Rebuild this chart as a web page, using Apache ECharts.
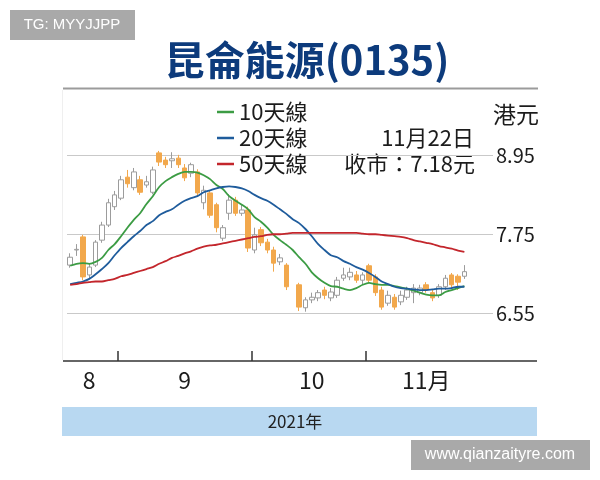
<!DOCTYPE html>
<html>
<head>
<meta charset="utf-8">
<script src="https://cdn.jsdelivr.net/npm/echarts@6/dist/echarts.min.js"></script>
<style>
  html, body { margin: 0; padding: 0; background: #ffffff; }
  #chart { width: 600px; height: 480px; }
</style>
</head>
<body>
<div id="chart"></div>
<script>
// 昆侖能源 (0135) daily candles, 20 Aug – 22 Nov 2021, HK$
const augDays = ['8/20','8/23','8/24','8/25','8/26','8/27','8/30','8/31'];
const sepDays = ['9/1','9/2','9/3','9/6','9/7','9/8','9/9','9/10','9/13','9/14','9/15','9/16','9/17',
                 '9/20','9/21','9/23','9/24','9/27','9/28','9/29','9/30'];
const octDays = ['10/4','10/5','10/6','10/7','10/8','10/11','10/13','10/15','10/18','10/19','10/20',
                 '10/21','10/22','10/25','10/26','10/27','10/28','10/29'];
const novDays = ['11/1','11/2','11/3','11/4','11/5','11/8','11/9','11/10','11/11','11/12','11/15',
                 '11/16','11/17','11/18','11/19','11/22'];
const dates = augDays.concat(sepDays, octDays, novDays);

// [open, close, low, high]; '-' = no trading that day
const ohlc = [
  [7.28,7.40,7.24,7.46],[7.51,7.52,7.42,7.60],[7.71,7.10,7.05,7.74],[7.13,7.25,7.08,7.30],
  [7.28,7.63,7.25,7.66],[7.66,7.89,7.62,7.94],[7.89,8.23,7.86,8.29],[8.17,8.35,8.12,8.41],
  [8.30,8.58,8.27,8.64],[8.62,8.52,8.46,8.73],[8.46,8.70,8.42,8.76],[8.58,8.39,8.35,8.64],
  [8.50,8.55,8.46,8.64],[8.39,8.73,8.36,8.78],[8.99,8.85,8.79,9.02],[8.88,8.81,8.76,8.93],
  [8.87,8.90,8.76,9.00],[8.91,8.81,8.76,8.96],[8.76,8.61,8.56,8.82],[8.68,8.81,8.62,8.84],
  [8.70,8.38,8.33,8.74],[8.23,8.42,8.13,8.49],[8.38,8.04,8.00,8.42],[8.20,7.85,7.78,8.23],
  [7.69,7.85,7.65,7.89],[8.07,8.27,7.97,8.36],[8.27,8.07,8.03,8.32],[8.07,8.12,8.03,8.20],
  [8.12,7.54,7.48,8.17],[7.51,7.74,7.46,7.85],[7.82,7.62,7.57,7.86],[7.63,7.51,7.46,7.68],
  [7.51,7.31,7.18,7.56],[7.33,7.39,7.28,7.45],[7.28,6.95,6.90,7.31],'-',
  [6.98,6.64,6.58,7.01],[6.63,6.75,6.57,6.79],[6.75,6.79,6.70,6.86],[6.78,6.86,6.73,6.90],
  [6.90,6.82,6.76,6.95],[6.78,6.87,6.73,6.93],[6.82,7.05,6.78,7.10],[7.08,7.13,7.04,7.24],
  [7.10,7.17,7.05,7.24],[7.13,7.05,7.01,7.19],[7.05,7.13,6.99,7.17],[7.27,7.05,7.01,7.30],
  [7.10,6.86,6.81,7.14],[6.90,6.64,6.60,6.95],[6.70,6.82,6.66,6.89],[6.79,6.64,6.60,6.84],
  [6.72,6.82,6.67,6.89],[6.79,6.90,6.75,6.95],[6.86,6.93,6.70,6.99],[6.86,6.93,6.82,6.98],
  [6.98,6.90,6.86,7.02],[6.86,6.78,6.73,6.90],[6.82,6.95,6.78,6.99],[6.95,7.08,6.90,7.13],
  [7.13,6.98,6.93,7.16],[7.11,7.02,6.90,7.14],[7.11,7.18,7.07,7.28]
];

const ma10 = [7.27,7.30,7.31,7.30,7.33,7.39,7.51,7.60,7.72,7.85,7.97,8.07,8.21,8.33,8.47,8.56,
  8.62,8.67,8.70,8.70,8.69,8.65,8.59,8.50,8.44,8.33,8.26,8.20,8.13,8.01,7.94,7.85,7.74,7.66,
  7.59,7.51,7.40,7.30,7.17,7.08,7.01,6.96,6.95,6.92,6.90,6.93,6.98,7.01,6.99,6.98,6.98,6.96,
  6.94,6.92,6.89,6.86,6.83,6.82,6.82,6.87,6.90,6.93,6.96];
const ma20 = [6.99,7.01,7.03,7.07,7.14,7.22,7.31,7.43,7.54,7.63,7.72,7.80,7.89,7.95,8.04,8.09,
  8.13,8.20,8.26,8.30,8.33,8.39,8.42,8.45,8.47,8.48,8.47,8.45,8.41,8.35,8.30,8.26,8.20,8.13,
  8.06,7.98,7.92,7.83,7.72,7.60,7.51,7.43,7.40,7.34,7.30,7.25,7.21,7.16,7.10,7.03,6.99,6.95,
  6.93,6.92,6.91,6.90,6.90,6.91,6.92,6.92,6.93,6.95,6.95];
const ma50 = [6.98,6.99,7.01,7.02,7.03,7.03,7.05,7.07,7.11,7.13,7.16,7.19,7.22,7.25,7.30,7.34,
  7.39,7.42,7.46,7.49,7.53,7.56,7.58,7.59,7.61,7.63,7.65,7.67,7.69,7.71,7.72,7.74,7.75,7.75,
  7.76,7.77,7.77,7.77,7.77,7.77,7.77,7.77,7.77,7.77,7.77,7.77,7.76,7.75,7.75,7.74,7.73,7.72,
  7.71,7.69,7.66,7.64,7.62,7.60,7.57,7.55,7.53,7.50,7.48];

const maNames = ['10天線', '20天線', '50天線'];
const maColors = ['#3c9c44', '#1f5c9c', '#c3262c'];

// price axis ticks (HK$)
const priceMin = 5.35, priceMax = 10.15, priceStep = 1.2;
const shownPrices = [6.55, 7.75, 8.95];

// month captions under the time axis, keyed by the trading-day slot they sit on
const monthLabels = { 3: '8', 18: '9', 38: '10', 56: '11月' };

// a few empty slots keep the price grid running past the last session
const trailingSlots = 4;
const categories = dates.concat(new Array(trailingSlots).fill(''));

// month dividers sit on the boundary before the first session of each month
const monthOf = d => d.split('/')[0];
const monthDividers = [];
dates.forEach((d, i) => { if (i > 0 && monthOf(d) !== monthOf(dates[i - 1])) monthDividers.push(i - 0.5); });
const labelSlots = Object.keys(monthLabels).map(Number);

const lastClose = ohlc[ohlc.length - 1][1];
const lastDate = dates[dates.length - 1].split('/');

const NARROW = '"Liberation Sans Narrow", "Noto Sans CJK TC", "Liberation Sans", sans-serif';
const CJK = '"Noto Sans CJK TC", "Liberation Sans", sans-serif';
const INK = '#1c1c1c';

const chart = echarts.init(document.getElementById('chart'), null, { renderer: 'canvas' });

chart.setOption({
  animation: false,
  backgroundColor: '#ffffff',
  grid: { left: 67, right: 107, top: 76.75, bottom: 88.25 },
  legend: {
    data: maNames,
    orient: 'vertical',
    left: 217, top: 101,
    padding: 0,
    itemGap: 4,
    itemWidth: 17, itemHeight: 2.5,
    icon: 'rect',
    selectedMode: false,
    textStyle: { fontSize: 22, lineHeight: 22, color: INK, fontFamily: NARROW }
  },
  xAxis: [
    {
      // trading-day slots carrying the candles and averages
      type: 'category',
      data: categories,
      boundaryGap: true,
      axisLine: { show: false },
      axisTick: { show: false },
      axisLabel: { show: false },
      splitLine: { show: false }
    },
    {
      // same slots as a continuous scale: month dividers and captions
      type: 'value',
      min: -0.5,
      max: categories.length - 0.5,
      position: 'bottom',
      offset: -30.75,
      axisLine: { show: false },
      splitLine: { show: false },
      axisTick: {
        show: true, inside: true, length: 10,
        customValues: monthDividers,
        lineStyle: { color: '#333333', width: 1.5 }
      },
      axisLabel: {
        customValues: labelSlots,
        formatter: (v) => monthLabels[Math.round(v)] || '',
        fontSize: 23, lineHeight: 23, color: INK, fontFamily: NARROW, margin: 8
      }
    }
  ],
  yAxis: {
    type: 'value',
    position: 'right',
    min: priceMin, max: priceMax, interval: priceStep,
    axisLine: { show: false },
    axisTick: { show: false },
    axisLabel: {
      formatter: (v) => shownPrices.some(p => Math.abs(p - v) < 1e-6) ? v.toFixed(2) : '',
      margin: 3, fontSize: 20, color: INK, fontFamily: NARROW
    },
    splitLine: {
      show: true,
      lineStyle: { color: ['rgba(0,0,0,0)', '#c9c9c9', '#c9c9c9', '#c9c9c9', 'rgba(0,0,0,0)'], width: 1 }
    }
  },
  series: [
    {
      name: '日K',
      type: 'candlestick',
      xAxisIndex: 0,
      data: ohlc,
      barWidth: 5,
      z: 2,
      itemStyle: {
        color: '#ffffff', color0: '#f2a84c',
        borderColor: '#9c9c9c', borderColor0: '#f2a84c',
        borderWidth: 1
      }
    }
  ].concat([ma10, ma20, ma50].map((d, k) => ({
    name: maNames[k],
    type: 'line',
    xAxisIndex: 0,
    data: d,
    symbol: 'none',
    smooth: 0.3,
    z: 3,
    lineStyle: { width: 1.8, color: maColors[k] },
    itemStyle: { color: maColors[k] }
  }))),
  graphic: [
    // watermark tag, top left
    { type: 'rect', shape: { x: 10, y: 10, width: 125, height: 30 }, style: { fill: '#a9a9a9' } },
    { type: 'text', x: 72, y: 25, style: { text: 'TG: MYYJJPP', fill: '#ffffff', font: '15px "Liberation Sans", sans-serif', textAlign: 'center', textVerticalAlign: 'middle' } },
    // headline
    { type: 'text', x: 307, y: 60, style: { text: '昆侖能源(0135)', fill: '#0d3b7c', font: 'bold 40px ' + NARROW, textAlign: 'center', textVerticalAlign: 'middle' } },
    // frame
    { type: 'line', shape: { x1: 63, y1: 88.5, x2: 538, y2: 88.5 }, style: { stroke: '#9b9b9b', lineWidth: 2 } },
    { type: 'line', shape: { x1: 62.5, y1: 90, x2: 62.5, y2: 360 }, style: { stroke: '#efefef', lineWidth: 1 } },
    { type: 'line', shape: { x1: 63, y1: 361, x2: 537, y2: 361 }, style: { stroke: '#333333', lineWidth: 1.5 } },
    // unit and latest close
    { type: 'text', x: 516, y: 114, style: { text: '港元', fill: INK, font: '23px ' + CJK, textAlign: 'center', textVerticalAlign: 'middle' } },
    { type: 'text', x: 474, y: 138, style: { text: lastDate[0] + '月' + lastDate[1] + '日', fill: INK, font: '22px ' + NARROW, textAlign: 'right', textVerticalAlign: 'middle' } },
    { type: 'text', x: 475, y: 164, style: { text: '收市：' + lastClose.toFixed(2) + '元', fill: INK, font: '22px ' + NARROW, textAlign: 'right', textVerticalAlign: 'middle' } },
    // year band
    { type: 'rect', shape: { x: 62, y: 407, width: 475, height: 29 }, style: { fill: '#b8d8f1' } },
    { type: 'text', x: 295, y: 421.5, style: { text: '2021年', fill: '#222222', font: '17px ' + NARROW, textAlign: 'center', textVerticalAlign: 'middle' } },
    // watermark tag, bottom right
    { type: 'rect', shape: { x: 411, y: 440, width: 179, height: 30 }, style: { fill: '#a9a9a9' } },
    { type: 'text', x: 500, y: 455, style: { text: 'www.qianzaityre.com', fill: '#ffffff', font: '16px "Liberation Sans", sans-serif', textAlign: 'center', textVerticalAlign: 'middle' } }
  ]
});
</script>
</body>
</html>
